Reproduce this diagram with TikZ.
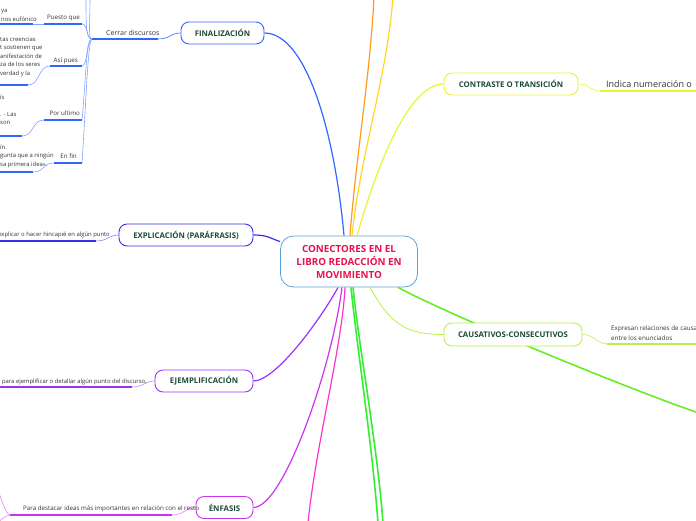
\documentclass[tikz,border=0pt]{standalone}
\usepackage{fontspec}
\setmainfont{Open Sans}
\usepackage{tikz}
\usetikzlibrary{positioning,backgrounds}
\definecolor{RootLine}{HTML}{5BA3DC}
\definecolor{RootText}{HTML}{E6124F}
\definecolor{TopicText}{HTML}{1C4B3C}
\definecolor{LabelText}{HTML}{333333}
\definecolor{FinBlue}{HTML}{3366FF}
\definecolor{ExplBlue}{HTML}{3D2EE8}
\definecolor{EjemPurple}{HTML}{9B30FF}
\definecolor{EnfViolet}{HTML}{CC33EE}
\definecolor{MagPink}{HTML}{FF33CC}
\definecolor{GreenA}{HTML}{33EE33}
\definecolor{GreenB}{HTML}{66EE22}
\definecolor{CausGreen}{HTML}{B8F04A}
\definecolor{ContrYellow}{HTML}{E8F531}
\definecolor{GoldY}{HTML}{FFD726}
\definecolor{OrangeL}{HTML}{FF9A1F}

\begin{document}
\begin{tikzpicture}[x=1pt, y=-1pt,
  raiz/.style={draw=RootLine, line width=0.8pt, rounded corners=13pt, fill=white, minimum width=137pt, minimum height=51pt, align=center, font=\fontsize{9.8}{13}\selectfont\bfseries, text=RootText},
  tema/.style={draw=#1, line width=0.9pt, rounded corners=8pt, fill=white, minimum height=22pt, inner sep=0pt, font=\fontsize{7.8}{9}\selectfont\bfseries, text=TopicText},
  etiq/.style={font=\fontsize{6.2}{7}\selectfont, text=LabelText, inner sep=0pt},
  nota/.style={font=\fontsize{5.9}{8.5}\selectfont, text=LabelText, inner sep=0pt, align=left},
  rama/.style={draw=#1, line width=1.2pt},
  fina/.style={draw=#1, line width=0.6pt},
  subr/.style={draw=#1, line width=1.6pt}]
\useasboundingbox (0,0) rectangle (696,520);
\clip (0,0) rectangle (696,520);

% main topics
\node[raiz] (centro) at (349,261.5) {CONECTORES EN EL\\LIBRO REDACCIÓN EN\\MOVIMIENTO};
\node[tema=FinBlue, minimum width=83pt] (finaliz) at (222.5,33) {FINALIZACIÓN};
\node[tema=ExplBlue, minimum width=134pt] (explic) at (186,235) {EXPLICACIÓN (PARÁFRASIS)};
\node[tema=EjemPurple, minimum width=98pt] (ejempl) at (204,381) {EJEMPLIFICACIÓN};
\node[tema=EnfViolet, minimum width=57pt] (enfasis) at (224.5,507.5) {ÉNFASIS};
\node[tema=ContrYellow, minimum width=134pt] (contraste) at (511,84) {CONTRASTE O TRANSICIÓN};
\node[tema=CausGreen, minimum width=138pt, minimum height=23pt] (causat) at (513,334.5) {CAUSATIVOS-CONSECUTIVOS};

% labels
\node[etiq, font=\fontsize{7}{8}\selectfont, anchor=base west] (cerrar) at (106,35.5) {Cerrar discursos};
\node[etiq, anchor=base east] (puesto) at (80,19.5) {Puesto que};
\node[etiq, anchor=base east] (asi) at (78,62.5) {Así pues};
\node[etiq, anchor=base east] (porult) at (80,115.5) {Por ultimo};
\node[etiq, anchor=base east] (enfin) at (77,158.5) {En fin};
\node[nota, anchor=north west] (puestoNota) at (1,9.5) {ya\\nos eufónico};
\node[nota, anchor=north west] (asiNota) at (0,36.5) {tas creencias\\t sostienen que\\anifestación de\\za de los seres\\verdad y la};
\node[nota, anchor=north west] (porNota) at (0,94.5) {ís\\[8.5pt]. - Las\\son};
\node[nota, anchor=north west] (enNota) at (0,144.5) {ín.\\gunta que a ningún\\sa primera idea».};
\node[nota, anchor=base east] (explNota) at (110,236.5) {explicar o hacer hincapié en algún punto};
\node[nota, anchor=base east] (ejemNota) at (147,383) {para ejemplificar o detallar algún punto del discurso.};
\node[nota, font=\fontsize{6.2}{8.5}\selectfont, anchor=base west] (enfNota) at (23,510) {Para destacar ideas más importantes en relación con el resto};
\node[etiq, font=\fontsize{9}{10}\selectfont, anchor=base west] (contrNota) at (606,87) {Indica numeración o};
\node[nota, font=\fontsize{6.3}{10}\selectfont, anchor=north west] (causNota) at (611,325.5) {Expresan relaciones de causa\\entre los enunciados};

% underline ends
\coordinate (cerrarL) at (92,39);  \coordinate (cerrarR) at (158,39);
\coordinate (puestoL) at (44,24);  \coordinate (puestoR) at (82,24);
\coordinate (asiL) at (50,66);     \coordinate (asiR) at (82,66);
\coordinate (porL) at (44,120);    \coordinate (porR) at (82,120);
\coordinate (enL) at (54,163);     \coordinate (enR) at (82,163);
\coordinate (puestoNL) at (-2,24); \coordinate (puestoNR) at (33,24);
\coordinate (asiNL) at (-2,85);    \coordinate (asiNR) at (28,85);
\coordinate (porNL) at (-2,136);   \coordinate (porNR) at (22,136);
\coordinate (enNL) at (-2,172);    \coordinate (enNR) at (33,172);
\coordinate (finUpA) at (86,-3);   \coordinate (finUpB) at (90,-3);
\coordinate (explL) at (-2,241);   \coordinate (explR) at (96,241);
\coordinate (ejemL) at (-2,387);   \coordinate (ejemR) at (132,387);
\coordinate (enfL) at (10,515);    \coordinate (enfR) at (172,515);
\coordinate (enfUp) at (-3,486);   \coordinate (enfDn) at (-3,524);
\coordinate (contrL) at (600,91);  \coordinate (contrR) at (699,91);
\coordinate (causL) at (607,344);  \coordinate (causR) at (699,344);
% branches leaving the picture
\coordinate (offOr) at (374,-3);   \coordinate (offGold) at (393,-3);
\coordinate (offMag) at (308,523);
\coordinate (offGrA) at (378,523); \coordinate (offGrB) at (383,523);
\coordinate (offGrR) at (699,413);

\begin{scope}[on background layer]
% from the root
\draw[rama=FinBlue] ([xshift=-5pt]centro.north) .. controls +(-10,-110) and +(40,0) .. (finaliz.east);
\draw[rama=OrangeL] ([xshift=1pt]centro.north) .. controls +(6,-80) and +(-4,80) .. (offOr);
\draw[rama=GoldY] ([xshift=3pt]centro.north) .. controls +(8,-80) and +(-6,80) .. (offGold);
\draw[rama=ContrYellow] ([xshift=8pt]centro.north) .. controls +(20,-70) and +(-35,0) .. (contraste.west);
\draw[rama=ExplBlue] ([yshift=20pt]centro.west) .. controls +(-10,-3) and +(15,0) .. (explic.east);
\draw[rama=EjemPurple] ([xshift=-11pt]centro.south) .. controls +(-18,33) and +(22,0) .. (ejempl.east);
\draw[rama=EnfViolet] ([xshift=-7pt]centro.south) .. controls +(-10,80) and +(30,0) .. (enfasis.east);
\draw[rama=MagPink] ([xshift=-4pt]centro.south) .. controls +(-3,60) and +(8,-80) .. (offMag);
\draw[subr=GreenA] ([xshift=2pt]centro.south) .. controls +(6,60) and +(-6,-80) .. (offGrA);
\draw[subr=GreenA] ([xshift=4pt]centro.south) .. controls +(6,60) and +(-6,-80) .. (offGrB);
\draw[rama=CausGreen, line width=0.8pt] ([xshift=21pt]centro.south) .. controls +(20,35) and +(-40,0) .. (causat.west);
\draw[subr=GreenB] ([xshift=49pt]centro.south) .. controls +(60,32) and +(-60,-20) .. (offGrR);
% finalizacion
\draw[fina=FinBlue] (cerrarR) .. controls +(12,0) and +(-10,0) .. (finaliz.west);
\draw[subr=FinBlue] (cerrarL) -- (cerrarR);
\draw[fina=FinBlue!60] (cerrarL) .. controls +(-6,0) and +(0,30) .. (finUpA);
\draw[fina=FinBlue!60] (cerrarL) .. controls +(-4,0) and +(0,30) .. (finUpB);
\draw[fina=FinBlue!60] (cerrarL) .. controls +(-6,0) and +(6,0) .. (puestoR);
\draw[fina=FinBlue!60] (cerrarL) .. controls +(-6,0) and +(6,0) .. (asiR);
\draw[fina=FinBlue!60] (cerrarL) .. controls +(-6,0) and +(4,-40) .. (porR);
\draw[fina=FinBlue!60] (cerrarL) .. controls +(-4,0) and +(4,-60) .. (enR);
\draw[subr=FinBlue] (puestoL) -- (puestoR);
\draw[subr=FinBlue] (asiL) -- (asiR);
\draw[subr=FinBlue] (porL) -- (porR);
\draw[subr=FinBlue] (enL) -- (enR);
\draw[subr=FinBlue] (puestoNL) -- (puestoNR);
\draw[subr=FinBlue] (asiNL) -- (asiNR);
\draw[subr=FinBlue] (porNL) -- (porNR);
\draw[subr=FinBlue] (enNL) -- (enNR);
\draw[fina=FinBlue!60] (puestoNR) .. controls +(5,0) and +(-5,0) .. (puestoL);
\draw[fina=FinBlue!60] (asiNR) .. controls +(12,0) and +(-12,0) .. (asiL);
\draw[fina=FinBlue!60] (porNR) .. controls +(12,0) and +(-12,0) .. (porL);
\draw[fina=FinBlue!60] (enNR) .. controls +(12,0) and +(-12,0) .. (enL);
% other labels
\draw[subr=ExplBlue] (explL) -- (explR);
\draw[fina=ExplBlue!60] (explR) .. controls +(12,0) and +(-10,0) .. (explic.west);
\draw[subr=EjemPurple] (ejemL) -- (ejemR);
\draw[fina=EjemPurple!60] (ejemR) .. controls +(12,0) and +(-10,0) .. (ejempl.west);
\draw[subr=EnfViolet] (enfL) -- (enfR);
\draw[fina=EnfViolet!60] (enfR) .. controls +(12,0) and +(-10,0) .. (enfasis.west);
\draw[fina=EnfViolet!60] (enfL) .. controls +(-4,0) and +(3,10) .. (enfUp);
\draw[fina=EnfViolet!60] (enfL) .. controls +(-4,0) and +(3,-4) .. (enfDn);
\draw[subr=ContrYellow] (contrL) -- (contrR);
\draw[fina=ContrYellow] (contraste.east) .. controls +(12,0) and +(-10,0) .. (contrL);
\draw[subr=CausGreen] (causL) -- (causR);
\draw[fina=CausGreen] (causat.east) .. controls +(12,0) and +(-10,0) .. (causL);
\end{scope}
\end{tikzpicture}
\end{document}
